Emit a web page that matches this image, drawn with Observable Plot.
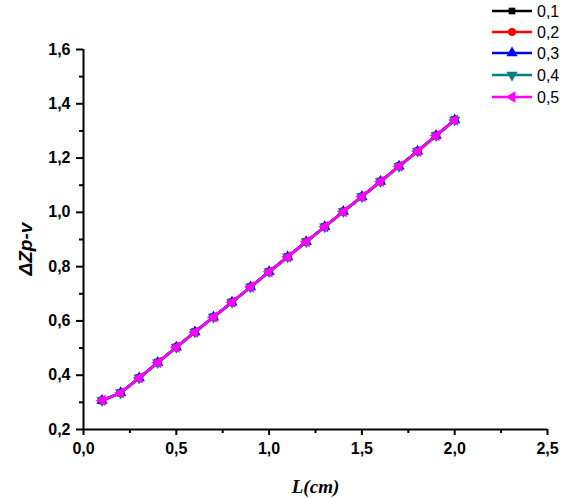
<!DOCTYPE html>
<html>
<head>
<meta charset="utf-8">
<script src="https://cdn.jsdelivr.net/npm/d3@7"></script>
<script src="https://cdn.jsdelivr.net/npm/@observablehq/plot@0.6"></script>
<style>
  html, body { margin: 0; padding: 0; background: #fff; }
  #wrap { position: relative; width: 569px; height: 498px; }
  #legend { position: absolute; left: 0; top: 0; pointer-events: none; }
</style>
</head>
<body>
<div id="wrap"></div>
<script>
// Length of the sample, cm
const L = [0.1, 0.2, 0.3, 0.4, 0.5, 0.6, 0.7, 0.8, 0.9, 1.0,
           1.1, 1.2, 1.3, 1.4, 1.5, 1.6, 1.7, 1.8, 1.9, 2.0];

// ΔZp-v for each parameter value (the five curves coincide)
const dz01 = [0.307, 0.335, 0.390, 0.447, 0.503, 0.559, 0.614, 0.669, 0.725, 0.781,
              0.836, 0.892, 0.947, 1.003, 1.058, 1.114, 1.170, 1.225, 1.283, 1.340];
const dz02 = [0.307, 0.335, 0.390, 0.447, 0.503, 0.559, 0.614, 0.669, 0.725, 0.781,
              0.836, 0.892, 0.947, 1.003, 1.058, 1.114, 1.170, 1.225, 1.283, 1.340];
const dz03 = [0.307, 0.335, 0.390, 0.447, 0.503, 0.559, 0.614, 0.669, 0.725, 0.781,
              0.836, 0.892, 0.947, 1.003, 1.058, 1.114, 1.170, 1.225, 1.283, 1.340];
const dz04 = [0.307, 0.335, 0.390, 0.447, 0.503, 0.559, 0.614, 0.669, 0.725, 0.781,
              0.836, 0.892, 0.947, 1.003, 1.058, 1.114, 1.170, 1.225, 1.283, 1.340];
const dz05 = [0.307, 0.335, 0.390, 0.447, 0.503, 0.559, 0.614, 0.669, 0.725, 0.781,
              0.836, 0.892, 0.947, 1.003, 1.058, 1.114, 1.170, 1.225, 1.283, 1.340];

const seriesNames = ["0,1", "0,2", "0,3", "0,4", "0,5"];
const seriesValues = [dz01, dz02, dz03, dz04, dz05];
const seriesColors = ["#000000", "#ff0000", "#0000ff", "#008080", "#ff00ff"];

// Tick values
const xMajor = [0, 0.5, 1.0, 1.5, 2.0, 2.5];
const xMinor = [0.25, 0.75, 1.25, 1.75, 2.25];
const yMajor = [0.2, 0.4, 0.6, 0.8, 1.0, 1.2, 1.4, 1.6];
const yMinor = [0.3, 0.5, 0.7, 0.9, 1.1, 1.3, 1.5];

// marker per series: symbol + rotation
const markers = [
  {symbol: "square", rotate: 0, d3s: d3.symbolSquare, size: 44},
  {symbol: "circle", rotate: 0, d3s: d3.symbolCircle, size: 50},
  {symbol: "triangle", rotate: 0, d3s: d3.symbolTriangle, size: 55},
  {symbol: "triangle", rotate: 180, d3s: d3.symbolTriangle, size: 55},
  {symbol: "triangle", rotate: -90, d3s: d3.symbolTriangle, size: 55}
];

const rows = [];
seriesValues.forEach((vals, s) => {
  L.forEach((x, i) => rows.push({series: s, L: x, dz: vals[i]}));
});

const comma = d => d3.format(".1f")(d).replace(".", ",");
const sansBold = {fontFamily: "'Liberation Sans', Arial, sans-serif", fontWeight: "bold", fontSize: 16};

const seriesMarks = seriesValues.flatMap((vals, s) => {
  const data = rows.filter(r => r.series === s);
  return [
    Plot.line(data, {x: "L", y: "dz", stroke: seriesColors[s], strokeWidth: 2.6}),
    Plot.dot(data, {x: "L", y: "dz", symbol: markers[s].symbol, rotate: markers[s].rotate,
                    r: 4.2, fill: seriesColors[s], stroke: "none"})
  ];
});

const chart = Plot.plot({
  width: 569,
  height: 498,
  marginLeft: 83,
  marginRight: 22,
  marginTop: 49,
  marginBottom: 69,
  style: {background: "#fff", color: "#000", overflow: "visible"},
  x: {domain: [0, 2.5], axis: null},
  y: {domain: [0.2, 1.6], axis: null},
  marks: [
    ...seriesMarks,
    // axes
    Plot.axisX({ticks: xMinor, tickSize: 4, text: null, label: null, strokeWidth: 2}),
    Plot.axisX({ticks: xMajor, tickSize: 6, tickPadding: 7, tickFormat: comma, label: null, strokeWidth: 2, ...sansBold}),
    Plot.axisY({ticks: yMinor, tickSize: 4, text: null, label: null, strokeWidth: 2}),
    Plot.axisY({ticks: yMajor, tickSize: 7, tickPadding: 6, tickFormat: comma, label: null, strokeWidth: 2, ...sansBold}),
    Plot.ruleY([0.2], {strokeWidth: 2}),
    Plot.ruleX([0], {strokeWidth: 2}),
    // axis titles
    Plot.text(["L(cm)"], {frameAnchor: "bottom", lineAnchor: "bottom", dy: 63,
      fontFamily: "'Liberation Serif', 'Times New Roman', serif", fontWeight: "bold",
      fontStyle: "italic", fontSize: 19}),
    Plot.text(["ΔZp-v"], {frameAnchor: "left", rotate: -90, lineAnchor: "bottom", dx: -52, dy: 36,
      fontFamily: "'Liberation Sans', Arial, sans-serif", fontWeight: "bold",
      fontStyle: "italic", fontSize: 19})
  ]
});

const wrap = document.getElementById("wrap");
wrap.appendChild(chart);

// legend in the top-right corner
const leg = d3.select(wrap).append("svg")
  .attr("id", "legend")
  .attr("width", 569)
  .attr("height", 110);

const rowY = [11, 32, 53, 75, 97];
seriesNames.forEach((name, s) => {
  const g = leg.append("g").attr("transform", `translate(0,${rowY[s]})`);
  g.append("line").attr("x1", 492).attr("x2", 532).attr("y1", 0).attr("y2", 0)
    .attr("stroke", seriesColors[s]).attr("stroke-width", 2.6);
  g.append("path")
    .attr("d", d3.symbol(markers[s].d3s, markers[s].size)())
    .attr("transform", `translate(512,0) rotate(${markers[s].rotate})`)
    .attr("fill", seriesColors[s]);
  g.append("text").attr("x", 537).attr("y", 0).attr("dy", "0.36em")
    .attr("font-family", "'Liberation Sans', Arial, sans-serif")
    .attr("font-size", 16)
    .attr("fill", "#000")
    .text(name);
});
</script>
</body>
</html>
